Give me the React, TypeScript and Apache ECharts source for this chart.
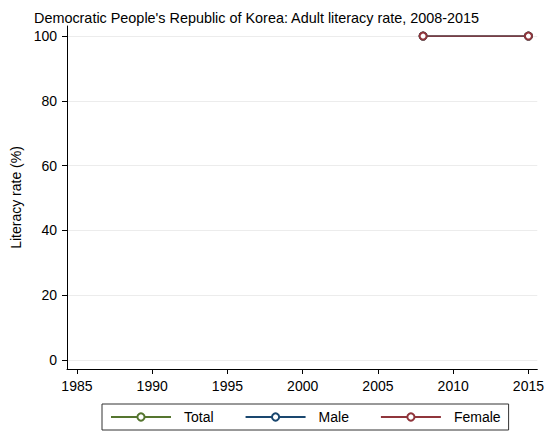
import React, { useEffect, useRef } from "react";
import * as echarts from "echarts";

const titleText = "Democratic People's Republic of Korea: Adult literacy rate, 2008-2015";
const years = [2008, 2015];
const totalValues = [100, 100];
const maleValues = [100, 100];
const femaleValues = [100, 100];
const xTicks = [1985, 1990, 1995, 2000, 2005, 2010, 2015];
const yTicks = [0, 20, 40, 60, 80, 100];

const FONT = "'Liberation Sans', Arial, Helvetica, sans-serif";

export default function App() {
  const ref = useRef<HTMLDivElement>(null);
  useEffect(() => {
    if (!ref.current) return;
    const chart = echarts.init(ref.current, undefined, { renderer: "svg" });
    const mk = (name: string, vals: number[], color: string) => ({
      name,
      type: "line",
      data: years.map((y, i) => [y, vals[i]]),
      symbol: "emptyCircle",
      symbolSize: 7,
      lineStyle: { color, width: 1.3 },
      itemStyle: { color, borderColor: color, borderWidth: 1.2 },
      z: 3,
    });
    chart.setOption({
      animation: false,
      backgroundColor: "#fff",
      textStyle: { fontFamily: FONT },
      title: {
        text: titleText,
        left: 29,
        top: 6,
        textStyle: { fontSize: 14.4, fontWeight: "normal", color: "#000", fontFamily: FONT },
      },
      grid: { left: 67, right: 7, top: 26, bottom: 64 },
      xAxis: {
        type: "value",
        min: 1984.34,
        max: 2015.59,
        axisLine: { show: true, onZero: false, lineStyle: { color: "#000", width: 1 } },
        axisTick: { show: true, length: 5, customValues: xTicks, lineStyle: { color: "#000" } },
        axisLabel: {
          customValues: xTicks,
          fontSize: 14,
          color: "#000",
          margin: 10,
          fontFamily: FONT,
          formatter: (v: number) => String(v),
        },
        splitLine: { show: false },
      },
      yAxis: {
        type: "value",
        min: -2.78,
        max: 103.1,
        name: "Literacy rate (%)",
        nameLocation: "middle",
        nameGap: 42,
        nameTextStyle: { fontSize: 14, color: "#000", fontFamily: FONT },
        axisLine: { show: true, onZero: false, lineStyle: { color: "#000", width: 1 } },
        axisTick: { show: true, length: 5, customValues: yTicks, lineStyle: { color: "#000" } },
        axisLabel: {
          customValues: yTicks,
          fontSize: 14,
          color: "#000",
          margin: 10,
          fontFamily: FONT,
          formatter: (v: number) => String(v),
        },
        splitLine: { show: false },
      },
      legend: {
        left: 102,
        top: 404,
        padding: [6, 8, 6, 8],
        itemGap: 31,
        itemWidth: 60,
        itemHeight: 9,
        borderColor: "#333",
        borderWidth: 1,
        textStyle: { fontSize: 14, color: "#000", fontFamily: FONT, padding: [0, 0, 0, 8] },
        data: ["Total", "Male", "Female"],
      },
      series: [
        {
          name: "grid",
          type: "line",
          data: [],
          z: 1,
          silent: true,
          markLine: {
            z: 0,
            silent: true,
            symbol: "none",
            label: { show: false },
            lineStyle: { color: "#ececec", width: 1, type: "solid" },
            data: yTicks.map((v) => ({ yAxis: v })),
          },
        },
        mk("Total", totalValues, "#55752f"),
        mk("Male", maleValues, "#1a476f"),
        mk("Female", femaleValues, "#90353b"),
      ],
    });
    return () => chart.dispose();
  }, []);
  return (
    <div
      ref={ref}
      style={{ position: "fixed", left: 0, top: 0, width: 547, height: 433 }}
    />
  );
}
